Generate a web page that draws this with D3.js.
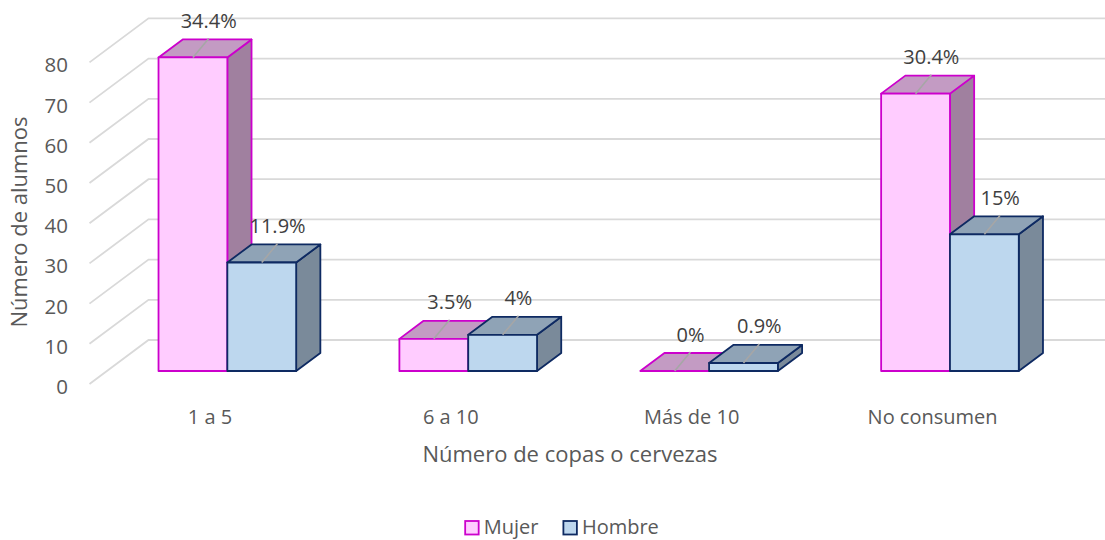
<!DOCTYPE html>
<html>
<head>
<meta charset="utf-8">
<script src="https://cdn.jsdelivr.net/npm/d3@7"></script>
<style>
  html, body { margin: 0; padding: 0; background: #ffffff; }
  svg { display: block; font-family: "Open Sans", sans-serif; }
</style>
</head>
<body>
<svg id="chart" width="1105" height="540"></svg>
<script>
// Survey data: number of students by drinks per occasion
const categories = ["1 a 5", "6 a 10", "Más de 10", "No consumen"];
const seriesNames = ["Mujer", "Hombre"];
const mujer = [78, 8, 0, 69];
const hombre = [27, 9, 2, 34];
const totalStudents = 227;
const yTicks = [0, 10, 20, 30, 40, 50, 60, 70, 80];

const seriesValues = [mujer, hombre];
const palette = {
  Mujer:  { front: "#FFCCFF", top: "#C39BC3", side: "#A0809F", stroke: "#CC00CC" },
  Hombre: { front: "#BDD7EE", top: "#8FA3B6", side: "#7A8A9A", stroke: "#0E2A62" }
};

const svg = d3.select("#chart");
const W = 1105;

// Oblique 3D frame: the front plane is z = 0, the back wall is z = 1
const DX = 59, DY = 44;
const zFront = 0.295, zBack = 0.705;

const x = d3.scaleBand().domain(categories).range([89.5, 1053]).paddingInner(0).paddingOuter(0);
const barW = x.bandwidth() / 3.5;
const xs = d3.scaleBand().domain(seriesNames).range([0, 2 * barW]);
const y = d3.scaleLinear().domain([0, 80]).range([384, 62.4]);

const P = (px, v, z) => [px + z * DX, y(v) - z * DY];

// Gridlines: side wall diagonal then back wall
const grid = svg.append("g");
yTicks.forEach(t => {
  const a = P(x.range()[0], t, 0), b = P(x.range()[0], t, 1);
  grid.append("polyline")
    .attr("points", [a, b, [W, b[1]]].map(p => p.join(",")).join(" "))
    .attr("fill", "none")
    .attr("stroke", "#D9D9D9")
    .attr("stroke-width", 1.8);
});

// Y axis tick labels
const yAxis = svg.append("g")
  .attr("transform", "translate(89,0)")
  .call(d3.axisLeft(y).tickValues(yTicks).tickSize(0).tickPadding(21));
yAxis.select(".domain").remove();
yAxis.selectAll("text")
  .attr("dy", 9.5)
  .attr("fill", "#595959")
  .style("font-size", "20.5px")
  .style("font-family", "'Open Sans', sans-serif");

// X axis category labels (front plane)
const xAxis = svg.append("g")
  .attr("transform", `translate(0,${y(0)})`)
  .call(d3.axisBottom(x).tickSize(0).tickPadding(0));
xAxis.select(".domain").remove();
xAxis.selectAll("text")
  .attr("y", 40)
  .attr("dy", 0)
  .attr("fill", "#595959")
  .style("font-size", "20px")
  .style("font-family", "'Open Sans', sans-serif");

// 3D columns
const bars = svg.append("g");
const labels = [];
categories.forEach((c, i) => {
  seriesNames.forEach((s, j) => {
    const v = seriesValues[j][i];
    const col = palette[s];
    const L = x(c) + x.bandwidth() / 2 - barW + xs(s);
    const R = L + barW;
    const g = bars.append("g")
      .attr("stroke", col.stroke)
      .attr("stroke-width", 1.8)
      .attr("stroke-linejoin", "round");
    const poly = pts => pts.map(p => p.join(",")).join(" ");
    // right side face
    g.append("polygon")
      .attr("points", poly([P(R, v, zFront), P(R, v, zBack), P(R, 0, zBack), P(R, 0, zFront)]))
      .attr("fill", col.side);
    // top face
    g.append("polygon")
      .attr("points", poly([P(L, v, zFront), P(R, v, zFront), P(R, v, zBack), P(L, v, zBack)]))
      .attr("fill", col.top);
    // front face
    const f0 = P(L, v, zFront), f1 = P(R, 0, zFront);
    g.append("rect")
      .attr("x", f0[0]).attr("y", f0[1])
      .attr("width", f1[0] - f0[0]).attr("height", f1[1] - f0[1])
      .attr("fill", col.front);
    const pct = (v / totalStudents * 100).toFixed(1).replace(/\.0$/, "") + "%";
    labels.push({ cx: (f0[0] + f1[0]) / 2, top: f0[1], text: pct });
  });
});

// Data labels with leader lines
const lab = svg.append("g");
labels.forEach(d => {
  lab.append("line")
    .attr("x1", d.cx).attr("y1", d.top)
    .attr("x2", d.cx + 15.8).attr("y2", d.top - 19)
    .attr("stroke", "#A6A6A6")
    .attr("stroke-width", 1.6);
  lab.append("text")
    .attr("x", d.cx + 15.8).attr("y", d.top - 29.5)
    .attr("text-anchor", "middle")
    .attr("fill", "#404040")
    .style("font-size", "20px")
    .text(d.text);
});

// Axis titles
svg.append("text")
  .attr("x", 570).attr("y", 462)
  .attr("text-anchor", "middle")
  .attr("fill", "#595959")
  .style("font-size", "22px")
  .text("Número de copas o cervezas");

svg.append("text")
  .attr("transform", "translate(27,222) rotate(-90)")
  .attr("text-anchor", "middle")
  .attr("fill", "#595959")
  .style("font-size", "22px")
  .text("Número de alumnos");

// Legend
const legend = svg.append("g");
const sq = 13.5, gapText = 5, gapItem = 25;
let cursor = 0;
seriesNames.forEach(s => {
  const g = legend.append("g");
  g.append("rect")
    .attr("x", 0).attr("y", -12.5)
    .attr("width", sq).attr("height", sq)
    .attr("fill", palette[s].front)
    .attr("stroke", palette[s].stroke)
    .attr("stroke-width", 1.8);
  const t = g.append("text")
    .attr("x", sq + gapText).attr("y", 0)
    .attr("fill", "#595959")
    .style("font-size", "20px")
    .text(s);
  const w = sq + gapText + t.node().getComputedTextLength();
  g.attr("transform", `translate(${cursor},0)`);
  cursor += w + gapItem;
});
const legendW = cursor - gapItem;
legend.attr("transform", `translate(${562 - legendW / 2},533.5)`);
</script>
</body>
</html>
